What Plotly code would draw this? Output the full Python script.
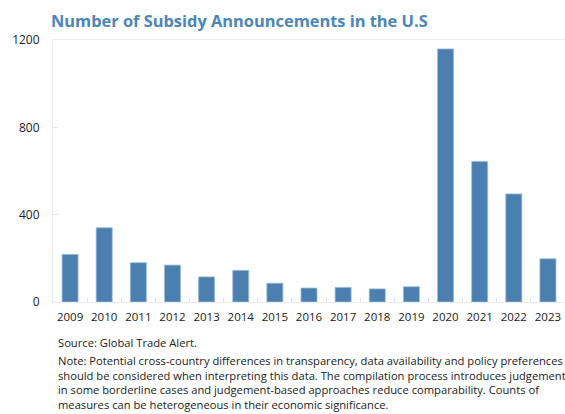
import plotly.graph_objects as go

years = ["2009", "2010", "2011", "2012", "2013", "2014", "2015", "2016",
         "2017", "2018", "2019", "2020", "2021", "2022", "2023"]
announcements = [218, 340, 180, 169, 115, 145, 86, 64, 67, 60, 70, 1159, 644, 495, 198]
y_ticks = [0, 400, 800, 1200]

title_text = "Number of Subsidy Announcements in the U.S"
source_text = "Source: Global Trade Alert."
note_lines = [
    "Note: Potential cross-country differences in transparency, data availability and policy preferences",
    "should be considered when interpreting this data. The compilation process introduces judgement",
    "in some borderline cases and judgement-based approaches reduce comparability. Counts of",
    "measures can be heterogeneous in their economic significance.",
]

font_family = "Open Sans, Noto Sans, sans-serif"
bar_color = "#4a7fb0"
title_color = "#4a86b9"
frame_color = "#ececec"

fig = go.Figure(
    go.Bar(
        x=years,
        y=announcements,
        marker=dict(color=bar_color, line=dict(color="#9dbbd8", width=0.8)),
        hoverinfo="x+y",
    )
)

fig.update_layout(
    width=565,
    height=414,
    margin=dict(l=53, r=0, t=40, b=112),
    paper_bgcolor="white",
    plot_bgcolor="white",
    bargap=0.53,
    showlegend=False,
    font=dict(family=font_family, size=12, color="#222222"),
)

fig.update_xaxes(
    type="category",
    tickangle=0,
    showgrid=False,
    showline=True,
    linecolor=frame_color,
    linewidth=1,
    mirror=True,
    ticks="inside",
    tickson="boundaries",
    ticklen=4,
    tickcolor="#e2e2e2",
    ticklabelstandoff=4,
    tickfont=dict(size=11.5, color="#222222"),
)

fig.update_yaxes(
    range=[0, 1200],
    tickvals=y_ticks,
    ticktext=[str(v) for v in y_ticks],
    showgrid=False,
    zeroline=False,
    showline=True,
    linecolor=frame_color,
    linewidth=1,
    mirror=True,
    ticks="inside",
    ticklen=5,
    tickcolor="#e2e2e2",
    ticklabelstandoff=10,
    tickfont=dict(size=12, color="#222222"),
)

fig.add_annotation(
    text=f"<b>{title_text}</b>",
    xref="paper", yref="paper", x=-0.007, y=1.0, yshift=20,
    xanchor="left", yanchor="middle", showarrow=False,
    font=dict(size=16.4, color=title_color, family=font_family),
)

fig.add_annotation(
    text=source_text,
    xref="paper", yref="paper", x=0.006, y=0, yshift=-40,
    xanchor="left", yanchor="middle", showarrow=False,
    font=dict(size=11.2, color="#222222", family=font_family),
)

# Note paragraph as a single multi-line block
fig.add_annotation(
    text="<br>".join(note_lines),
    xref="paper", yref="paper", x=0.006, y=0, yshift=-49,
    xanchor="left", yanchor="top", align="left", showarrow=False,
    font=dict(size=11.2, color="#222222", family=font_family),
)

fig.write_html("out.html")
